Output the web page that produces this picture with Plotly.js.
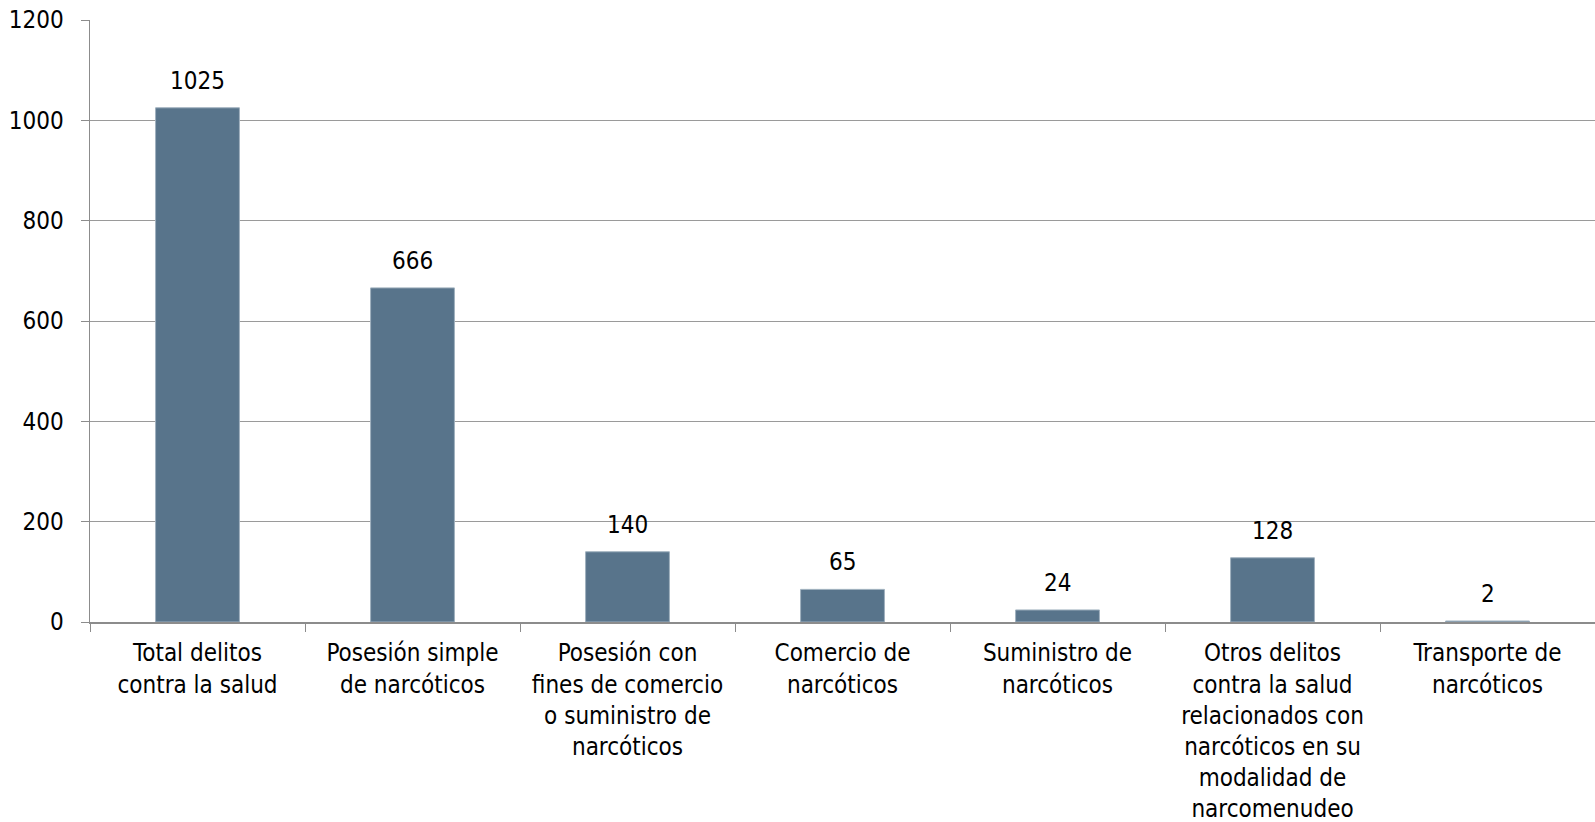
<!DOCTYPE html>
<html>
<head>
<meta charset="utf-8">
<script src="https://cdn.plot.ly/plotly-3.0.1.min.js"></script>
<style>html,body{margin:0;padding:0;background:#fff;}#chart{width:1595px;height:822px;}</style>
</head>
<body>
<div id="chart"></div>
<script>
const categories = [
  "Total delitos<br>contra la salud",
  "Posesión simple<br>de narcóticos",
  "Posesión con<br>fines de comercio<br>o suministro de<br>narcóticos",
  "Comercio de<br>narcóticos",
  "Suministro de<br>narcóticos",
  "Otros delitos<br>contra la salud<br>relacionados con<br>narcóticos en su<br>modalidad de<br>narcomenudeo",
  "Transporte de<br>narcóticos"
];
const values = [1025, 666, 140, 65, 24, 128, 2];
const yTicks = [0, 200, 400, 600, 800, 1000, 1200];

const FONT = "DejaVu Sans Condensed, DejaVu Sans, sans-serif";

const trace = {
  type: "bar",
  x: categories,
  y: values,
  marker: {color: "#58748b", line: {color: "#9fb0be", width: 1}},
  hoverinfo: "none"
};

const annotations = categories.map((c, i) => ({
  x: c, y: values[i], xref: "x", yref: "y",
  text: String(values[i]), showarrow: false,
  yanchor: "bottom", yshift: 11,
  font: {family: FONT, size: 24, color: "#000"}
}));

const layout = {
  width: 1595, height: 822,
  margin: {l: 90, r: 0, t: 20, b: 200},
  paper_bgcolor: "#fff", plot_bgcolor: "#fff",
  bargap: 0.61,
  showlegend: false,
  font: {family: FONT, size: 24, color: "#000"},
  xaxis: {
    type: "category",
    tickson: "boundaries",
    ticks: "outside", ticklen: 8, tickcolor: "#8c8c8c", tickwidth: 1,
    showline: true, linecolor: "#8c8c8c", linewidth: 1.5,
    showgrid: false,
    tickangle: 0,
    ticklabelstandoff: 9,
    tickfont: {family: FONT, size: 24, color: "#000"}
  },
  yaxis: {
    range: [0, 1200],
    tickvals: yTicks,
    ticks: "outside", ticklen: 8, tickcolor: "#8c8c8c",
    showline: true, linecolor: "#8c8c8c", linewidth: 1.5,
    showgrid: true, gridcolor: "#9a9a9a", gridwidth: 1,
    zeroline: false,
    ticklabelstandoff: 12,
    tickfont: {family: FONT, size: 24, color: "#000"}
  },
  annotations: annotations
};

Plotly.newPlot("chart", [trace], layout, {displayModeBar: false, staticPlot: true});
</script>
</body>
</html>
